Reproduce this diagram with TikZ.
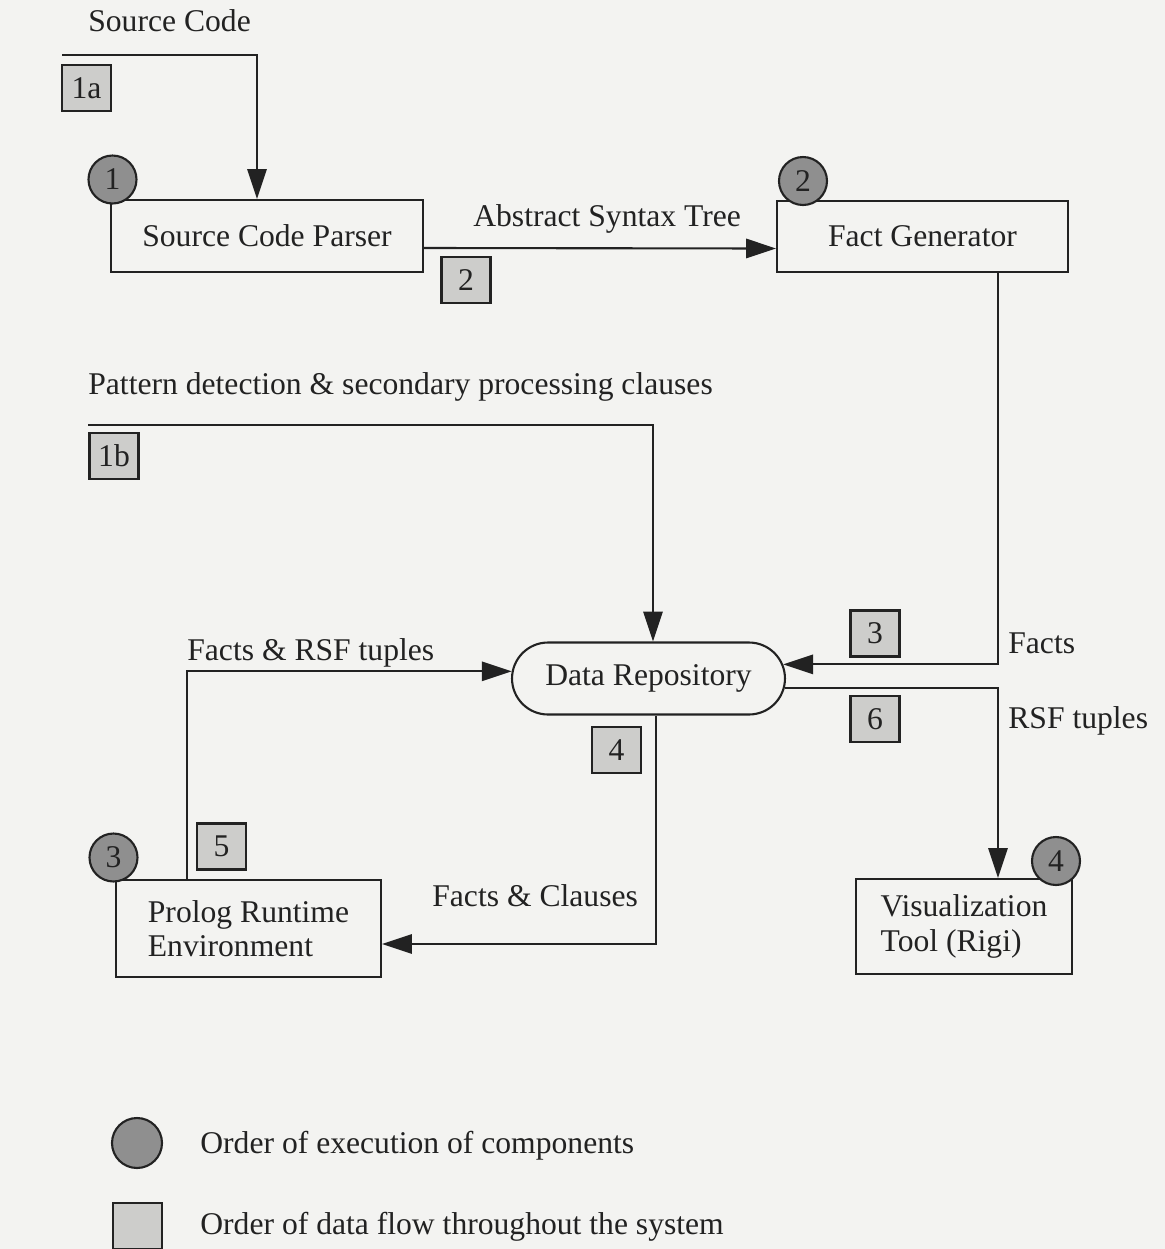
\documentclass[tikz,border=0pt]{standalone}
\usepackage{fontspec}
\setmainfont{Liberation Serif}
\usetikzlibrary{arrows.meta,shapes.misc}

\definecolor{paper}{HTML}{F3F3F1}
\definecolor{ink}{HTML}{222222}
\definecolor{ordergray}{HTML}{8F8F8F}
\definecolor{flowgray}{HTML}{CDCDCB}

\tikzset{
  every node/.style={font=\fontsize{18}{19.5}\selectfont, text=ink},
  comp/.style={draw=ink, line width=1.2pt, fill=paper, inner sep=0pt, align=left},
  store/.style={comp, rounded rectangle},
  execorder/.style={circle, draw=ink, line width=1.2pt, fill=ordergray, minimum size=0.96cm, inner sep=0pt},
  flowbox/.style={rectangle, draw=ink, line width=1.2pt, fill=flowgray, minimum width=0.98cm, minimum height=0.92cm, inner sep=0pt},
  lbl/.style={anchor=west, inner sep=0pt, text height=12pt, text depth=0pt},
  link/.style={draw=ink, line width=1.2pt, -{Triangle[length=17pt,width=11pt]}}
}

\begin{document}
\begin{tikzpicture}[x=0.02cm,y=-0.02cm]
  \fill[paper] (0,0) rectangle (1165,1249);
  \useasboundingbox (0,0) rectangle (1165,1249);

  \node[comp, minimum width=6.24cm, minimum height=1.44cm] (parser) at (267,236) {Source Code Parser};
  \node[comp, minimum width=5.82cm, minimum height=1.42cm] (factgen) at (922.5,236.5) {Fact Generator};
  \node[store, minimum width=5.46cm, minimum height=1.44cm] (repo) at (648.5,678.5) {Data Repository};
  \node[comp, minimum width=5.3cm, minimum height=1.94cm] (prolog) at (248.5,928.5) {Prolog Runtime\\Environment};
  \node[comp, minimum width=4.32cm, minimum height=1.9cm] (vis) at (964,926.5) {Visualization\\Tool (Rigi)};

  \coordinate (src) at (62,55);
  \coordinate (pat) at (88,425);

  \draw[link] (src) -| ([xshift=-0.2cm]parser.north);
  \draw[link] ([yshift=-0.24cm]parser.east) -- ([yshift=-0.24cm]factgen.west);
  \draw[link] (pat) -| ([xshift=0.09cm]repo.north);
  \draw[link] ([xshift=1.51cm]factgen.south) |- (repo.6.2);
  \draw[link] (repo.-4) -| ([xshift=0.68cm]vis.north);
  \draw[link] ([xshift=-1.23cm]prolog.north) |- (repo.177.5);
  \draw[link] ([xshift=0.15cm]repo.south) |- ([yshift=-0.31cm]prolog.east);

  \node[flowbox] (f1a) at (86.5,88) {1a};
  \node[flowbox] (f2) at (466,280) {2};
  \node[flowbox] (f1b) at (114,456) {1b};
  \node[flowbox] (f3) at (875,633.5) {3};
  \node[flowbox] (f6) at (875,719) {6};
  \node[flowbox] (f4) at (616.5,750) {4};
  \node[flowbox] (f5) at (221.5,846.5) {5};

  \node[execorder] (e1) at (112.5,179.5) {1};
  \node[execorder] (e2) at (803,181) {2};
  \node[execorder] (e3) at (113.5,857.5) {3};
  \node[execorder] (e4) at (1056,861) {4};

  \node[lbl] (lsrc) at (88,21) {Source Code};
  \node[lbl] (last) at (473,216) {Abstract Syntax Tree};
  \node[lbl] (lpat) at (88,384) {Pattern detection \& secondary processing clauses};
  \node[lbl] (lrsf) at (187,650) {Facts \& RSF tuples};
  \node[lbl] (lfacts) at (1008,643) {Facts};
  \node[lbl] (ltuples) at (1008,718) {RSF tuples};
  \node[lbl] (lclauses) at (432,896) {Facts \& Clauses};

  \node[execorder, minimum size=1cm] (keyexec) at (137,1143) {};
  \node[lbl] at (200,1143) {Order of execution of components};
  \node[flowbox] (keyflow) at (137.5,1226) {};
  \node[lbl] at (200,1224) {Order of data flow throughout the system};
\end{tikzpicture}
\end{document}
